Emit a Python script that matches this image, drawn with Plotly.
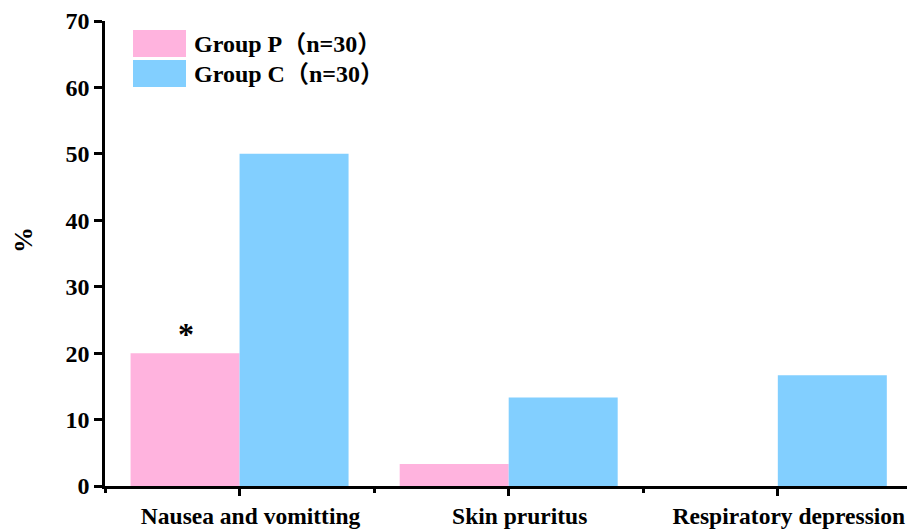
import plotly.graph_objects as go

categories = ["Nausea and vomitting", "Skin pruritus", "Respiratory depression"]
group_names = ["Group P（n=30）", "Group C（n=30）"]
group_p = [20.0, 3.33, 0.0]
group_c = [50.0, 13.33, 16.67]
colors = ["#FFB3DE", "#82CFFF"]
y_ticks = [0, 10, 20, 30, 40, 50, 60, 70]
y_title = "%"

FONT = "Liberation Serif, Times New Roman, Noto Sans CJK SC, serif"
xpos = list(range(len(categories)))

fig = go.Figure()
for name, vals, col in zip(group_names, [group_p, group_c], colors):
    fig.add_trace(go.Bar(x=xpos, y=vals, name=name, marker=dict(color=col, line=dict(width=0)),
                         showlegend=False))

# significance marker
fig.add_annotation(x=-0.2, y=group_p[0], text="<b>*</b>", showarrow=False, yanchor="bottom",
                   yshift=-1, font=dict(family=FONT, size=32, color="black"))

W, H = 907, 530
L, R, T, B = 105, 0, 21, 44
pw, ph = W - L - R, H - T - B

def px(x):
    return (x - L) / pw

def py(y):
    return 1 - (y - T) / ph

# custom legend with large swatches
for i, (name, col) in enumerate(zip(group_names, colors)):
    top = 30 + i * 30
    fig.add_shape(type="rect", xref="paper", yref="paper", x0=px(133), x1=px(186),
                  y0=py(top + 27), y1=py(top), fillcolor=col, line=dict(width=0))
    fig.add_annotation(xref="paper", yref="paper", x=px(192), y=py(top + 14), text="<b>" + name + "</b>",
                       showarrow=False, xanchor="left", yanchor="middle",
                       font=dict(family=FONT, size=24, color="black"))

# y axis title
fig.add_annotation(xref="paper", yref="paper", x=px(23), y=py(240), text="<b>" + y_title + "</b>",
                   showarrow=False, textangle=-90, xanchor="center", yanchor="middle",
                   font=dict(family=FONT, size=26, color="black"))

fig.update_layout(
    width=W, height=H,
    margin=dict(l=L, r=R, t=T, b=B),
    paper_bgcolor="white", plot_bgcolor="white",
    barmode="group", bargap=0.19, bargroupgap=0,
    font=dict(family=FONT, color="black"),
)
fig.update_xaxes(
    range=[-0.5, 2.48], tickvals=xpos, ticktext=["<b>" + c + "</b>" for c in categories],
    tickfont=dict(family=FONT, size=23.5, color="black"), automargin=False, ticklabelstandoff=0,
    ticklabelshift=11, ticklabeloverflow="allow",
    showline=True, linecolor="black", linewidth=2.5, ticks="outside", ticklen=7, tickwidth=2.5,
    tickcolor="black", showgrid=False, zeroline=False,
    minor=dict(tickvals=[-0.5, 0.5, 1.5], ticks="outside", ticklen=4, tickwidth=2.5, tickcolor="black", showgrid=False),
)
fig.update_yaxes(
    range=[0, 70], tickvals=y_ticks, ticktext=["<b>%d</b>" % v for v in y_ticks],
    tickfont=dict(family=FONT, size=24, color="black"), automargin=False,
    showline=True, linecolor="black", linewidth=2.5, ticks="outside", ticklen=8, tickwidth=2.5,
    tickcolor="black", showgrid=False, zeroline=False,
)

fig.write_html("out.html", config={"displayModeBar": False},
               post_script="document.body.style.margin='0';document.body.style.overflow='hidden';")
